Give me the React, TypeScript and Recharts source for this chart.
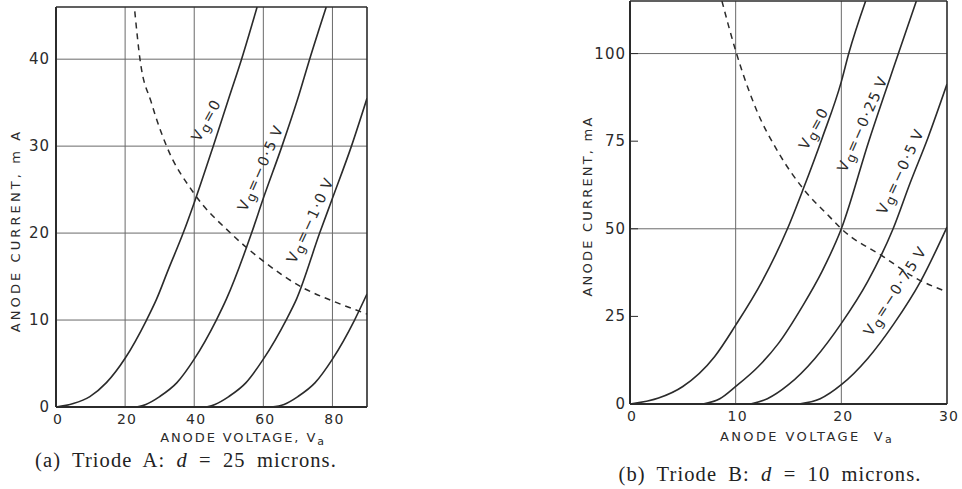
import React from 'react';
import { LineChart, Line, XAxis, YAxis, ReferenceLine, ReferenceDot } from 'recharts';

// ---------- Triode A (d = 25 microns) ----------
const VA_G0 = [0, 5, 9.8, 14.6, 20, 26.2, 29.1, 32.5, 36.8, 40, 45.5, 50, 53.7, 58.2];
const IA_G0 = [0, 0.4, 1.2, 2.8, 5.6, 10, 12.4, 15.8, 20, 23.5, 30, 35.5, 40, 46];
const VA_G05 = [23.3, 26, 30, 35, 40, 46.4, 49.3, 56.6, 60, 65.4, 70, 73.4, 78.2];
const IA_G05 = [0, 0.3, 1.2, 2.8, 5.5, 10, 12.4, 20, 24, 30, 35.5, 40, 46];
const VA_G10 = [43.5, 46, 50, 55, 60, 66.6, 69.6, 76.3, 80, 85.5, 90];
const IA_G10 = [0, 0.3, 1.2, 2.8, 5.5, 10, 12.4, 20, 24, 30, 35.5];
const VA_G15 = [62.3, 66, 70, 75, 80, 86.4, 90];
const IA_G15 = [0, 0.3, 1.2, 2.8, 5.5, 10, 13];
const VA_P = [22.8, 24.3, 27.6, 32, 39.7, 50.8, 59.9, 71.5, 80, 90];
const IA_P = [45.5, 40, 35, 30, 24.7, 19.9, 16.8, 13.7, 12.2, 10.7];
const XTICKS_A = [0, 20, 40, 60, 80];
const YTICKS_A = [0, 10, 20, 30, 40];
const GRIDX_A = [20, 40, 60, 80];
const GRIDY_A = [10, 20, 30, 40];
const XMAX_A = 90;
const YMAX_A = 46;
const LABELS_A = [
  { text: '0', v: 43.5, i: 33, angle: -61 },
  { text: '−0·5\u2009V', v: 59.2, i: 27.5, angle: -66 },
  { text: '−1·0\u2009V', v: 73.6, i: 21.5, angle: -65 },
];

// ---------- Triode B (d = 10 microns) ----------
const VB_G0 = [0, 2.7, 5, 8, 10, 12.5, 14.9, 16.4, 18.2, 20, 20.7, 22.3];
const IB_G0 = [0, 1.7, 5, 13.5, 22.5, 35, 50, 61.4, 76, 92, 100, 115];
const VB_G025 = [6.9, 8.5, 10, 12.15, 14.05, 16.3, 18.2, 20, 22.6, 25.4, 27.1];
const IB_G025 = [0, 1.5, 5, 10.7, 17.3, 27.8, 38, 50, 75, 100, 115];
const VB_G05 = [11.4, 13, 15, 17.5, 20, 22.5, 24.9, 26.5, 28.2, 30];
const IB_G05 = [0, 1.5, 5.5, 13, 23, 35, 50, 63, 76, 91.3];
const VB_G075 = [16, 18, 20, 22.5, 25, 27.5, 30];
const IB_G075 = [0, 1.5, 5.5, 13, 23, 35, 50.5];
const VB_P = [8.7, 10, 12, 14, 16.4, 18.9, 20, 24, 27, 30];
const IB_P = [115, 100.8, 83.7, 72, 61.4, 53.4, 50, 42, 36, 32];
const XTICKS_B = [0, 10, 20, 30];
const YTICKS_B = [0, 25, 50, 75, 100];
const GRIDX_B = [10, 20];
const GRIDY_B = [50, 100];
const XMAX_B = 30;
const YMAX_B = 115;
const LABELS_B = [
  { text: '0', v: 17.4, i: 78.7, angle: -61 },
  { text: '−0·25\u2009V', v: 22.0, i: 80, angle: -66 },
  { text: '−0·5\u2009V', v: 25.6, i: 66.4, angle: -65 },
  { text: '−0·75\u2009V', v: 25.1, i: 32.3, angle: -57 },
];

const FONT = '"DejaVu Sans", sans-serif';
const INK = '#2b2b2b';
const GRID = '#6a6a6a';

const pts = (v: number[], i: number[]) => v.map((x, k) => ({ v: x, i: i[k] }));

function CurveLabel(props: any) {
  const { viewBox, text, angle } = props;
  const vb = viewBox || { x: 0, y: 0, width: 0, height: 0 };
  const cx = vb.x + (vb.width || 0) / 2;
  const cy = vb.y + (vb.height || 0) / 2;
  return (
    <text
      x={cx}
      y={cy}
      transform={`rotate(${angle} ${cx} ${cy})`}
      textAnchor="middle"
      dominantBaseline="central"
      fontFamily={FONT}
      fontSize={14.5}
      fill={INK}
      letterSpacing={1.6}
    >
      V<tspan dy={3} fontSize={13}>g</tspan>
      <tspan dy={-3}>{'=' + text}</tspan>
    </text>
  );
}

function YTick(props: any) {
  const { x, y, payload, gap, inner } = props;
  return (
    <g>
      {inner && payload.value !== 0 ? (
        <line x1={x} x2={x + 8} y1={y} y2={y} stroke={INK} strokeWidth={1} />
      ) : null}
      <text
        x={x - gap}
        y={y}
        textAnchor="end"
        dominantBaseline="central"
        fontFamily={FONT}
        fontSize={15}
        fill={INK}
        letterSpacing={1}
      >
        {payload.value}
      </text>
    </g>
  );
}

function XTick(props: any) {
  const { x, y, payload, gap } = props;
  return (
    <text
      x={x + 2}
      y={y + gap}
      textAnchor="middle"
      dominantBaseline="central"
      fontFamily={FONT}
      fontSize={14}
      fill={INK}
      letterSpacing={1.2}
    >
      {payload.value}
    </text>
  );
}

type CurveSet = { v: number[]; i: number[] }[];

function Plot(props: {
  width: number;
  height: number;
  margin: any;
  yAxisWidth: number;
  xmax: number;
  ymax: number;
  xticks: number[];
  yticks: number[];
  gridX: number[];
  gridY: number[];
  curves: CurveSet;
  dashed: { v: number[]; i: number[] };
  labels: { text: string; v: number; i: number; angle: number }[];
  yGap: number;
  xGap: number;
  inner: boolean;
}) {
  const p = props;
  return (
    <LineChart width={p.width} height={p.height} margin={p.margin}>
      <XAxis
        dataKey="v"
        type="number"
        domain={[0, p.xmax]}
        ticks={p.xticks}
        tickSize={0}
        tickMargin={0}
        height={30}
        axisLine={{ stroke: INK, strokeWidth: 2 }}
        tickLine={false}
        tick={<XTick gap={p.xGap} />}
        allowDataOverflow
      />
      <YAxis
        dataKey="i"
        type="number"
        domain={[0, p.ymax]}
        ticks={p.yticks}
        tickSize={0}
        tickMargin={0}
        width={p.yAxisWidth}
        axisLine={{ stroke: INK, strokeWidth: 2 }}
        tickLine={false}
        tick={<YTick gap={p.yGap} inner={p.inner} />}
        allowDataOverflow
      />
      {p.gridX.map((g) => (
        <ReferenceLine key={'gx' + g} x={g} stroke={GRID} strokeWidth={1} />
      ))}
      {p.gridY.map((g) => (
        <ReferenceLine key={'gy' + g} y={g} stroke={GRID} strokeWidth={1} />
      ))}
      <ReferenceLine x={p.xmax} stroke={INK} strokeWidth={1.6} />
      <ReferenceLine y={p.ymax} stroke={INK} strokeWidth={1.6} />
      {p.curves.map((c, k) => (
        <Line
          key={'c' + k}
          data={pts(c.v, c.i)}
          dataKey="i"
          type="monotone"
          stroke={INK}
          strokeWidth={1.6}
          dot={false}
          activeDot={false}
          isAnimationActive={false}
        />
      ))}
      <Line
        data={pts(p.dashed.v, p.dashed.i)}
        dataKey="i"
        type="monotone"
        stroke={INK}
        strokeWidth={1.5}
        strokeDasharray="6 5"
        dot={false}
        activeDot={false}
        isAnimationActive={false}
      />
      {p.labels.map((l, k) => (
        <ReferenceDot
          key={'l' + k}
          x={l.v}
          y={l.i}
          r={0}
          fill="none"
          stroke="none"
          label={{ content: (lp: any) => <CurveLabel {...lp} text={l.text} angle={l.angle} /> }}
        />
      ))}
    </LineChart>
  );
}

export default function App() {
  const titleStyle = { fontFamily: FONT, fontSize: 13, fill: INK } as any;
  const capStyle = {
    fontFamily: '"Liberation Serif", "Times New Roman", serif',
    fontSize: 20.5,
    fill: '#222',
    letterSpacing: 1.1,
    wordSpacing: 5,
  } as any;
  return (
    <div style={{ position: 'fixed', left: 0, top: 0, width: 962, height: 489, background: '#fff', overflow: 'hidden' }}>
      <div style={{ position: 'absolute', left: 0, top: 0 }}>
        <Plot
          width={380}
          height={489}
          margin={{ top: 7, right: 13, left: 0, bottom: 52 }}
          yAxisWidth={56}
          xmax={XMAX_A}
          ymax={YMAX_A}
          xticks={XTICKS_A}
          yticks={YTICKS_A}
          gridX={GRIDX_A}
          gridY={GRIDY_A}
          curves={[
            { v: VA_G0, i: IA_G0 },
            { v: VA_G05, i: IA_G05 },
            { v: VA_G10, i: IA_G10 },
            { v: VA_G15, i: IA_G15 },
          ]}
          dashed={{ v: VA_P, i: IA_P }}
          labels={LABELS_A}
          yGap={6}
          xGap={12}
          inner={false}
        />
      </div>
      <div style={{ position: 'absolute', left: 480, top: 0 }}>
        <Plot
          width={482}
          height={489}
          margin={{ top: 1, right: 15, left: 0, bottom: 55 }}
          yAxisWidth={150}
          xmax={XMAX_B}
          ymax={YMAX_B}
          xticks={XTICKS_B}
          yticks={YTICKS_B}
          gridX={GRIDX_B}
          gridY={GRIDY_B}
          curves={[
            { v: VB_G0, i: IB_G0 },
            { v: VB_G025, i: IB_G025 },
            { v: VB_G05, i: IB_G05 },
            { v: VB_G075, i: IB_G075 },
          ]}
          dashed={{ v: VB_P, i: IB_P }}
          labels={LABELS_B}
          yGap={4}
          xGap={12}
          inner={true}
        />
      </div>
      <svg width={962} height={489} style={{ position: 'absolute', left: 0, top: 0, pointerEvents: 'none' }}>
        <text
          x={15}
          y={230.5}
          transform="rotate(-90 15 230.5)"
          textAnchor="middle"
          dominantBaseline="central"
          letterSpacing={3.1}
          {...titleStyle}
        >
          ANODE CURRENT, m A
        </text>
        <text x={243} y={437.5} textAnchor="middle" dominantBaseline="central" letterSpacing={1.9} {...titleStyle}>
          ANODE VOLTAGE, V<tspan dy={3} fontSize={11}>a</tspan>
        </text>
        <text
          x={587}
          y={206}
          transform="rotate(-90 587 206)"
          textAnchor="middle"
          dominantBaseline="central"
          letterSpacing={2.2}
          {...titleStyle}
        >
          ANODE CURRENT, mA
        </text>
        <text x={807} y={436} textAnchor="middle" dominantBaseline="central" letterSpacing={2.4} {...titleStyle}>
          ANODE VOLTAGE{'\u00a0\u00a0'}V<tspan dy={3} fontSize={11}>a</tspan>
        </text>
        <text x={186} y={460} textAnchor="middle" dominantBaseline="central" {...capStyle}>
          (a) Triode A: <tspan fontStyle="italic">d</tspan> = 25 microns.
        </text>
        <text x={770} y={474} textAnchor="middle" dominantBaseline="central" {...capStyle}>
          (b) Triode B: <tspan fontStyle="italic">d</tspan> = 10 microns.
        </text>
      </svg>
    </div>
  );
}
